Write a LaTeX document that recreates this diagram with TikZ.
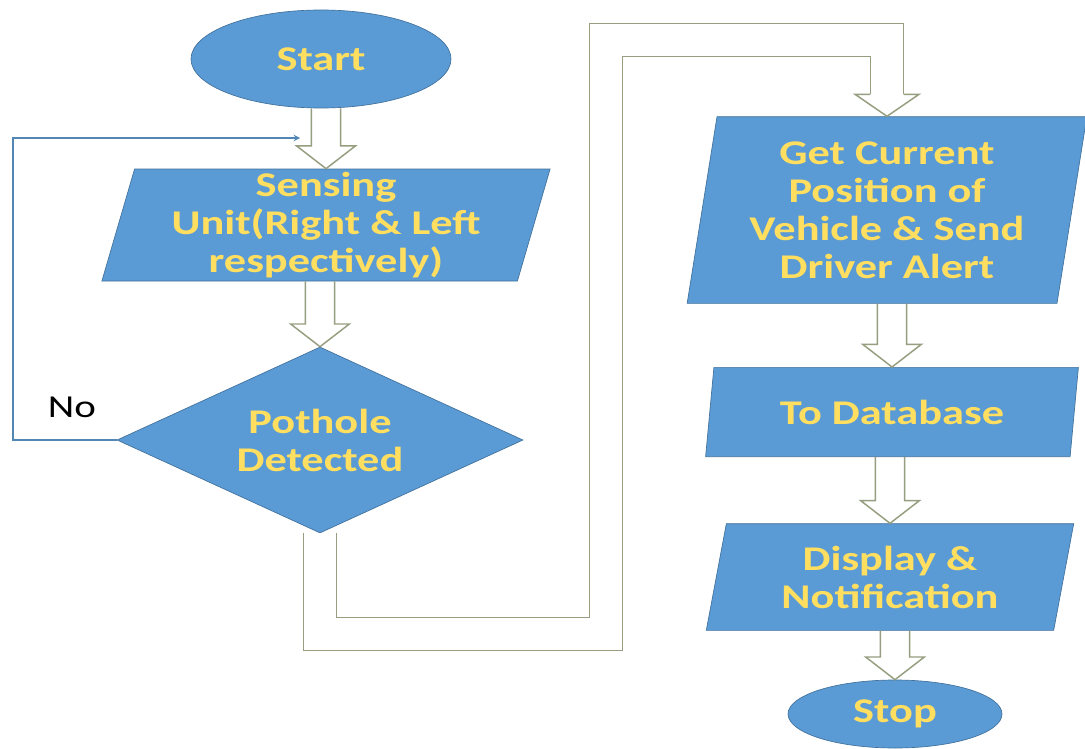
\documentclass[tikz,border=0pt]{standalone}
\usepackage{fontspec}
\setmainfont{Carlito}
\newfontfamily\boxfont[FakeStretch=1.28]{Carlito}
\usetikzlibrary{shapes.geometric,calc}

\definecolor{boxblue}{RGB}{91,155,213}
\definecolor{boxedge}{RGB}{65,113,156}
\definecolor{labelyellow}{RGB}{255,222,96}
\definecolor{arrowgrey}{RGB}{150,158,128}
\definecolor{loopblue}{RGB}{80,135,180}

\begin{document}
\begin{tikzpicture}[x=0.75pt, y=-0.75pt,
        every node/.style={align=center, inner sep=0pt, font=\boxfont\bfseries\fontsize{26}{28.5}\selectfont},
        terminal/.style={ellipse, fill=boxblue, draw=boxedge, line width=0.5pt, text=labelyellow},
        io/.style={trapezium, trapezium stretches=true, trapezium left angle=78, trapezium right angle=102,
            fill=boxblue, draw=boxedge, line width=0.5pt, text=labelyellow},
        decision/.style={diamond, aspect=2.2, fill=boxblue, draw=boxedge, line width=0.5pt, text=labelyellow},
        hollow/.style={draw=arrowgrey, line width=1.1pt, to path={let \p1=(\tikztostart), \p2=(\tikztotarget) in
            (\x2-11pt,\y1) -- (\x2-11pt,\y2+17pt) -- (\x2-22pt,\y2+17pt) -- (\x2,\y2)
            -- (\x2+22pt,\y2+17pt) -- (\x2+11pt,\y2+17pt) -- (\x2+11pt,\y1)}},
        bighead/.style={draw=arrowgrey, line width=1.1pt, to path={let \p1=(\tikztostart), \p2=(\tikztotarget) in
            (\x2-12.5pt,\y1) -- (\x2-24pt,\y1) -- (\x2,\y2) -- (\x2+24pt,\y1) -- (\x2+12.5pt,\y1)}},
        bigshaft/.style={draw=arrowgrey, line width=1.1pt, double=white, double distance=23.9pt, line join=miter},
        loop/.style={->, >=stealth, draw=loopblue, line width=1.1pt}
    ]
    \fill[white] (0,0) rectangle (1085,749);
    \useasboundingbox (0,0) rectangle (1085,749);

    % left column
    \node[terminal, minimum width=195pt, minimum height=73.5pt] (start) at (321,59) {Start};
    \node[io, trapezium left angle=76, trapezium right angle=104, minimum width=337pt, minimum height=84pt] (sense) at (326,225)
        {Sensing\\Unit(Right \& Left\\respectively)};
    \node[decision, minimum width=304.5pt, minimum height=139.5pt] (detect) at (320,440) {Pothole\\Detected};
    \node[font=\boxfont\fontsize{24}{28}\selectfont] (no) at (72,407) {No};

    % right column
    \node[io, trapezium left angle=80, trapezium right angle=100, minimum width=300pt, minimum height=140pt] (get) at (887,210)
        {Get Current\\Position of\\Vehicle \& Send\\Driver Alert};
    \node[io, minimum width=280pt, minimum height=67pt] (db) at (892,412) {To Database};
    \node[io, minimum width=276pt, minimum height=80pt] (disp) at (890,577) {Display \&\\Notification};
    \node[terminal, minimum width=160.5pt, minimum height=51pt] (stop) at (895,714) {Stop};

    \draw[hollow] (start.south) to (sense.north);
    \draw[hollow] (sense.south) to (detect.north);
    \draw[hollow] (get.south) to (db.north);
    \draw[hollow] (db.south) to (disp.north);
    \draw[hollow] (disp.south) to (stop.north);

    % yes branch over to the right column
    \coordinate (headbase) at ($(get.north)+(0,-22)$);
    \draw[bigshaft] (detect.south) |- (606,634) -- (606,40) -| (headbase);
    \draw[bighead] (headbase) to (get.north);

    % no branch back to the sensing unit
    \coordinate (loopin) at (300,138);
    \draw[loop] (detect.west) -| (13,138) -- (loopin);
\end{tikzpicture}
\end{document}
